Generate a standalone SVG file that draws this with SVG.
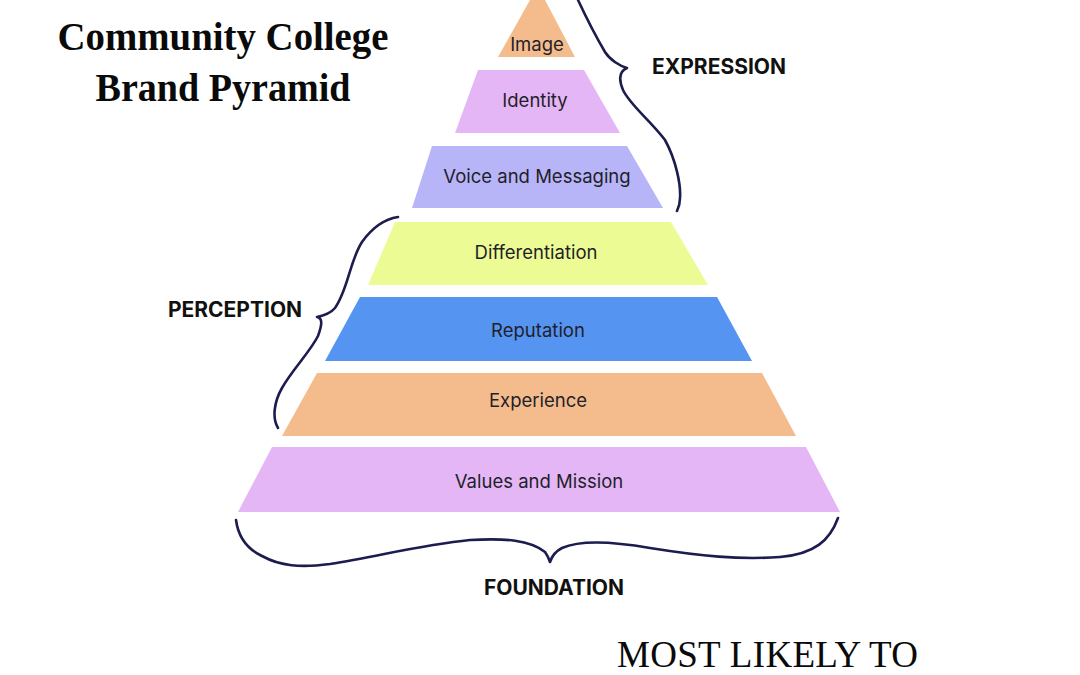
<svg xmlns="http://www.w3.org/2000/svg" width="1080" height="675" viewBox="0 0 1080 675">
<style>
.lay{font-family:Inter,"Noto Sans",sans-serif;font-size:18.5px;fill:#1f1f2a;text-anchor:middle}
.grp{font-family:Inter,"Noto Sans",sans-serif;font-size:21px;font-weight:700;fill:#111;text-anchor:middle}
.title{font-family:"Liberation Serif",serif;font-size:39px;font-weight:700;fill:#0a0a0a;text-anchor:middle}
.brace{fill:none;stroke:#1c1c4e;stroke-width:2.6;stroke-linecap:round;stroke-linejoin:round}
</style>
<rect width="1080" height="675" fill="#ffffff"/>
<g id="title">
<text class="title" x="223" y="50" textLength="331" lengthAdjust="spacingAndGlyphs">Community College</text>
<text class="title" x="223" y="101" textLength="255" lengthAdjust="spacingAndGlyphs">Brand Pyramid</text>
</g>
<g id="image">
<polygon points="530,0 545,0 575,57 498,57" fill="#f4bc8d"/>
<text class="lay" x="537" y="51" font-size="16">Image</text>
</g>
<g id="identity">
<polygon points="478,70 584,70 620,133 455,133" fill="#e4b6f5"/>
<text class="lay" x="535" y="107">Identity</text>
</g>
<g id="voice">
<polygon points="432,146 627,146 663,208 412,208" fill="#b8b4f8"/>
<text class="lay" x="537" y="183">Voice and Messaging</text>
</g>
<g id="differentiation">
<polygon points="395,222 671,222 708,285 368,285" fill="#ecfb94"/>
<text class="lay" x="536" y="259">Differentiation</text>
</g>
<g id="reputation">
<polygon points="360,297 717,297 752,361 325,361" fill="#5694f2"/>
<text class="lay" x="538" y="337">Reputation</text>
</g>
<g id="experience">
<polygon points="317,373 762,373 796,436 282,436" fill="#f4bc8d"/>
<text class="lay" x="538" y="407">Experience</text>
</g>
<g id="values">
<polygon points="272,447 806,447 840,512 238,512" fill="#e4b6f5"/>
<text class="lay" x="539" y="488">Values and Mission</text>
</g>
<g id="connectors">
<path class="brace" d="M578,0 C585,15 595,35 605,52 C610,60 620,66 627,68 C620,71 618,78 623,90 C630,105 650,120 665,140 C676,160 681,185 680,198 C680,205 678,209 677,211"/>
<path class="brace" d="M398,217 C385,219 372,228 362,242 C350,260 348,290 335,308 C330,314 322,316 317,317 C323,318 322,325 318,336 C310,352 292,370 282,388 C274,402 272,418 278,428"/>
<path class="brace" d="M236,520 C238,535 245,548 262,556 C280,566 300,568 330,564 C380,556 420,545 470,540 C505,538 530,540 545,552 C548,556 549,559 550,562 C552,556 556,551 562,548 C580,540 610,541 650,548 C700,556 740,560 780,557 C815,554 830,540 838,518"/>
</g>
<g id="expression">
<text class="grp" x="719" y="74">EXPRESSION</text>
</g>
<g id="perception">
<text class="grp" x="235" y="317">PERCEPTION</text>
</g>
<g id="foundation">
<text class="grp" x="554" y="595">FOUNDATION</text>
</g>
<g id="footer">
<text x="617" y="667" font-family="Liberation Serif,serif" font-size="37" fill="#0a0a0a" textLength="301" lengthAdjust="spacing">MOST LIKELY TO</text>
</g>
</svg>
